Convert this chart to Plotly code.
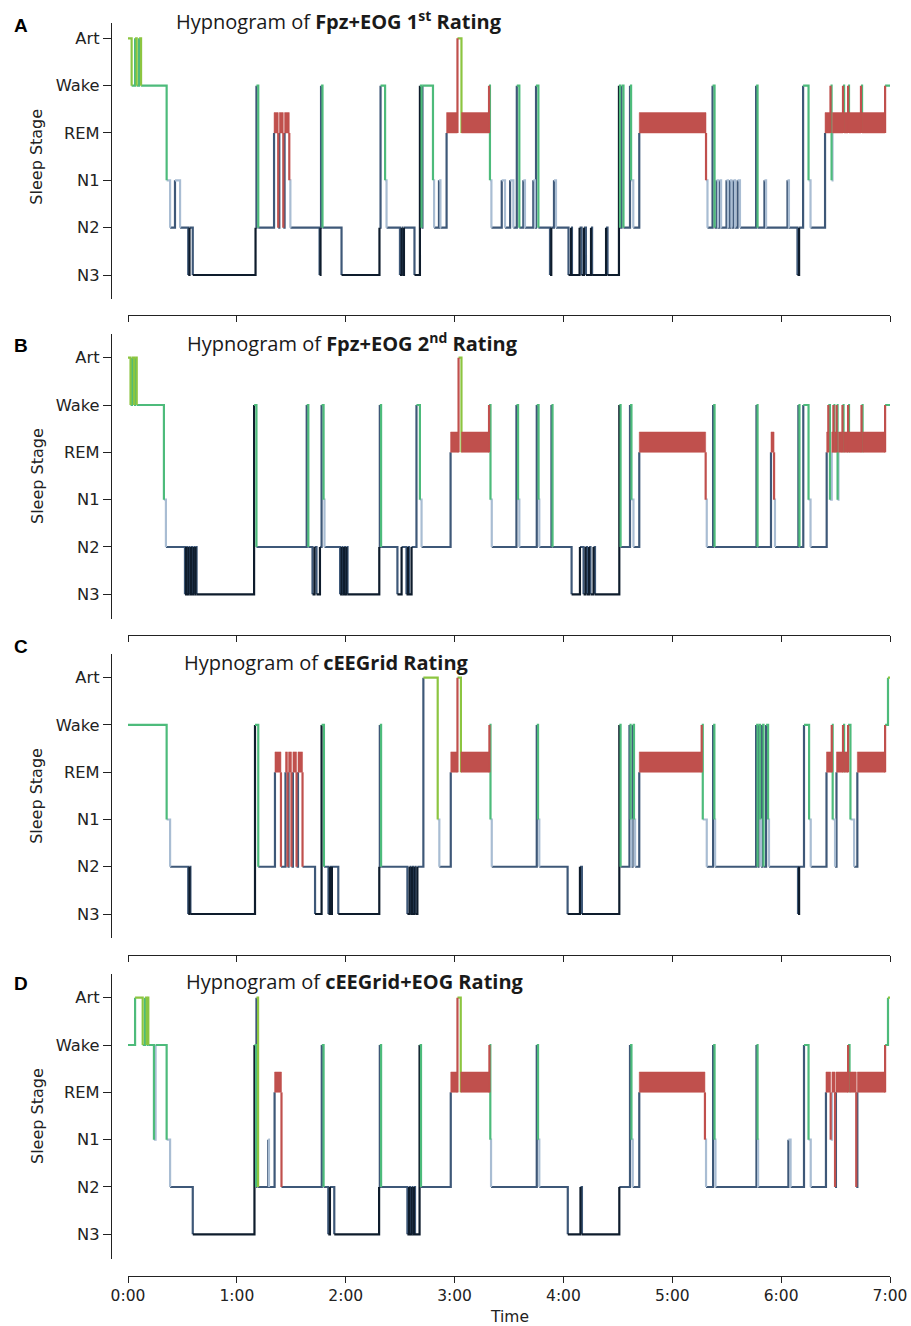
import plotly.graph_objects as go

W, H = 911, 1326

# ---------------- data ----------------
STAGES = ["N3", "N2", "N1", "REM", "Wake", "Art"]          # y tick labels, bottom -> top
HOUR_TICKS = [0, 60, 120, 180, 240, 300, 360, 420]          # minutes
HOUR_LABELS = ["0:00", "1:00", "2:00", "3:00", "4:00", "5:00", "6:00", "7:00"]
RECORD_END = 420.0                                           # minutes

TITLES = [
    "Hypnogram of <b>Fpz+EOG 1<sup>st</sup> Rating</b>",
    "Hypnogram of <b>Fpz+EOG 2<sup>nd</sup> Rating</b>",
    "Hypnogram of <b>cEEGrid Rating</b>",
    "Hypnogram of <b>cEEGrid+EOG Rating</b>",
]
PANEL_LETTERS = ["A", "B", "C", "D"]

# stage onsets (minutes) and stages, panel A (Fpz+EOG 1st rating)
A_onsets = [0, 2.0, 3.9, 4.8, 6.1, 7.2, 21.3, 23.2, 25.9, 28.7, 33.2, 33.9, 35.7, 70.3, 70.8, 71.8,
            80.5, 82.8, 83.4, 85.6, 86.3, 88.9, 89.5, 105.6, 106.1, 106.4, 107.2, 117.7, 138.6, 139.2,
            141.7, 142.5, 149.9, 150.8, 151.3, 152.1, 157.9, 160.9, 161.8, 162.3, 168.1, 168.7, 171.4,
            172.2, 175.6, 181.6, 183.8, 199.0, 199.5, 200.3, 206.0, 207.8, 210.6, 212.4, 214.3, 215.7,
            217.9, 218.8, 223.4, 224.3, 224.9, 226.2, 232.6, 233.3, 234.8, 235.9, 242.8, 244.2, 244.7,
            248.9, 250.0, 251.3, 252.4, 255.2, 255.8, 263.5, 264.3, 270.6, 271.2, 272.0, 273.1, 276.7,
            277.3, 278.5, 281.8, 318.6, 319.4, 322.2, 323.3, 324.4, 325.2, 326.0, 326.9, 329.9, 330.7,
            331.8, 332.6, 333.7, 334.6, 336.0, 337.3, 346.2, 347.0, 350.8, 351.7, 363.5, 364.3, 369.0,
            369.9, 372.1, 375.1, 376.2, 384.2, 387.2, 387.8, 388.3, 394.1, 394.7, 396.9, 397.4, 404.0,
            404.6, 417.3]
A_stages = ["Art", "Wake", "Art", "Wake", "Art", "Wake", "N1", "N2", "N1", "N2", "N3", "N2", "N3", "N2", "Wake", "N2",
            "REM", "N2", "REM", "N2", "REM", "N1", "N2", "N3", "N2", "Wake", "N2", "N3", "N2", "Wake",
            "N1", "N2", "N3", "N2", "N3", "N2", "N3", "Wake", "N2", "Wake", "N1", "N2", "N1",
            "N2", "REM", "Art", "REM", "Wake", "N1", "N2", "N1", "N2", "N1", "N2", "Wake", "N2",
            "N1", "N2", "N1", "N2", "Wake", "N2", "N3", "N2", "N1", "N2", "N3", "N2", "N3",
            "N2", "N3", "N2", "N3", "N2", "N3", "N2", "N3", "Wake", "N2", "Wake", "N2", "Wake",
            "N1", "N2", "REM", "N1", "N2", "Wake", "N2", "N1", "N2", "N1", "N2", "N1", "N2",
            "N1", "N2", "N1", "N2", "N1", "N2", "Wake", "N2", "N1", "N2", "N1", "N2", "N3",
            "N2", "Wake", "N1", "N2", "REM", "Wake", "N1", "REM", "Wake", "REM", "Wake", "REM", "Wake",
            "REM", "Wake"]

# panel B (Fpz+EOG 2nd rating)
B_onsets = [0, 1.4, 2.2, 3.3, 3.9, 4.8, 19.8, 20.9, 31.4, 32.0, 32.5, 33.3, 33.9, 34.7, 35.3, 36.1,
            36.7, 37.2, 37.8, 69.5, 70.8, 98.5, 99.4, 101.7, 102.8, 103.9, 105.8, 106.7, 107.8, 108.3,
            116.9, 117.7, 118.2, 119.1, 119.6, 120.4, 121.0, 138.5, 138.8, 139.5, 148.5, 150.8, 153.5,
            154.3, 154.9, 156.3, 159.0, 160.9, 161.8, 177.8, 182.2, 183.8, 199.0, 199.8, 200.5, 214.1,
            215.0, 215.7, 225.3, 226.3, 226.7, 233.4, 234.0, 244.5, 249.1, 251.1, 252.2, 253.0, 254.1,
            254.9, 256.6, 257.4, 270.8, 271.5, 276.7, 277.5, 278.6, 281.8, 318.4, 319.0, 322.5, 323.3,
            346.4, 347.0, 354.4, 356.1, 356.6, 369.5, 370.1, 372.2, 375.1, 376.2, 385.1, 386.0, 386.9,
            387.9, 388.8, 389.3, 390.6, 391.1, 391.6, 393.8, 394.4, 396.9, 397.4, 404.3, 404.9, 417.3]
B_stages = ["Art", "Wake", "Art", "Wake", "Art", "Wake", "N1", "N2", "N3", "N2", "N3", "N2", "N3", "N2", "N3", "N2",
            "N3", "N2", "N3", "Wake", "N2", "Wake", "N2", "N3", "N2", "N3", "N2", "Wake", "N1", "N2",
            "N3", "N2", "N3", "N2", "N3", "N2", "N3", "N2", "Wake", "N2", "N3", "N2", "N3",
            "N2", "N3", "N2", "Wake", "N1", "N2", "REM", "Art", "REM", "Wake", "N1", "N2", "Wake",
            "N1", "N2", "Wake", "N1", "N2", "Wake", "N2", "N3", "N2", "N3", "N2", "N3", "N2",
            "N3", "N2", "N3", "Wake", "N2", "Wake", "N1", "N2", "REM", "N1", "N2", "Wake", "N2",
            "Wake", "N2", "REM", "N1", "N2", "Wake", "N2", "Wake", "N1", "N2", "REM", "Wake", "N1",
            "REM", "Wake", "REM", "Wake", "N1", "REM", "Wake", "REM", "Wake", "REM", "Wake", "REM", "Wake"]

# panel C (cEEGrid rating)
C_onsets = [0, 21.3, 23.2, 33.2, 33.9, 34.4, 70.0, 71.8, 81.0, 84.3, 86.8, 87.9, 88.5, 90.1, 90.9, 92.9,
            93.7, 96.2, 103.1, 106.7, 108.0, 110.5, 111.3, 111.9, 112.4, 115.9, 138.5, 138.8, 139.5,
            154.0, 155.2, 155.7, 156.5, 157.1, 157.9, 158.5, 159.5, 162.8, 170.7, 171.6, 177.9, 181.6,
            183.5, 199.2, 199.8, 200.5, 225.3, 226.0, 226.7, 242.3, 249.1, 250.2, 270.8, 271.5, 276.4,
            277.0, 277.5, 278.1, 278.9, 279.5, 281.8, 316.2, 316.8, 319.0, 322.5, 323.2, 323.6, 346.2,
            347.0, 347.5, 348.4, 348.9, 349.5, 350.3, 351.7, 352.8, 353.3, 369.3, 369.9, 372.6, 375.4,
            376.3, 385.0, 387.9, 388.4, 389.7, 390.5, 394.1, 394.7, 396.9, 398.2, 400.2, 402.0, 417.3,
            418.9]
C_stages = ["Wake", "N1", "N2", "N3", "N2", "N3", "Wake", "N2", "REM", "N2", "REM", "N2", "REM", "N2", "REM", "N2",
            "REM", "N2", "N3", "Wake", "N2", "N3", "N2", "N3", "N2", "N3", "N2", "Wake", "N2",
            "N3", "N2", "N3", "N2", "N3", "N2", "N3", "N2", "Art", "N1", "N2", "REM", "Art",
            "REM", "Wake", "N1", "N2", "Wake", "N1", "N2", "N3", "N2", "N3", "Wake", "N2", "Wake",
            "N1", "N2", "Wake", "N1", "N2", "REM", "Wake", "N1", "N2", "Wake", "N1", "N2", "Wake",
            "N2", "Wake", "N1", "N2", "Wake", "N2", "Wake", "N1", "N2", "N3", "N2", "Wake", "N1",
            "N2", "REM", "Wake", "N1", "N2", "REM", "Wake", "REM", "Wake", "N1", "N2", "REM", "Wake",
            "Art"]

# panel D (cEEGrid+EOG rating)
D_onsets = [0, 3.9, 8.1, 9.4, 10.3, 10.7, 11.2, 14.3, 15.2, 21.3, 23.2, 35.7, 69.7, 70.6, 70.8, 71.7,
            77.3, 77.7, 80.8, 84.6, 106.8, 107.8, 110.4, 111.3, 113.7, 138.4, 138.8, 139.5, 154.0, 154.9,
            155.4, 156.3, 156.8, 157.6, 158.2, 160.7, 161.5, 177.9, 181.6, 183.4, 199.2, 199.7, 200.1,
            225.3, 226.0, 226.7, 242.4, 249.4, 250.2, 270.8, 276.7, 277.5, 278.2, 281.8, 318.0, 318.6,
            322.5, 323.3, 323.8, 346.4, 347.0, 347.3, 364.0, 365.2, 372.6, 375.1, 376.3, 384.7, 387.3,
            388.0, 389.7, 390.2, 396.9, 397.7, 401.4, 402.0, 417.3, 418.9]
D_stages = ["Wake", "Art", "Wake", "Art", "Wake", "Art", "Wake", "N1", "Wake", "N1", "N2", "N3", "Wake", "N2", "Art", "N2",
            "N1", "N2", "REM", "N2", "Wake", "N2", "N3", "N2", "N3", "N2", "Wake", "N2", "N3", "N2",
            "N3", "N2", "N3", "N2", "N3", "Wake", "N2", "REM", "Art", "REM", "Wake", "N1", "N2",
            "Wake", "N1", "N2", "N3", "N2", "N3", "N2", "Wake", "N1", "N2", "REM", "N1", "N2",
            "Wake", "N1", "N2", "Wake", "N1", "N2", "N1", "N2", "Wake", "N1", "N2", "REM", "N1",
            "REM", "N2", "REM", "Wake", "REM", "N2", "REM", "Wake", "Art"]

PANELS = [(A_onsets, A_stages), (B_onsets, B_stages), (C_onsets, C_stages), (D_onsets, D_stages)]

# ---------------- style ----------------
COLORS = {"N3": "#0e1c2c", "N2": "#3e5878", "N1": "#a9bdd3",
          "REM": "#c0504d", "Wake": "#4dbb7b", "Art": "#8cc540"}
LEVEL = {s: i for i, s in enumerate(STAGES)}
REM_BAND = 0.43
AX = "#222222"
LW = 2.2

# panel geometry in pixels: (Art tick y, N3 tick y, axis top, axis bottom, x-axis y)
GEOM = [(38.3, 275.0, 22.7, 299.0, 314.7),
        (357.7, 594.3, 334.0, 618.5, 635.0),
        (677.7, 914.0, 654.3, 938.3, 955.0),
        (997.7, 1234.3, 974.3, 1259.0, 1275.7)]
TITLE_POS = [(174, 21), (185, 342.7), (181.7, 662), (184.3, 981.7)]
LETTER_Y = [25, 346, 646.5, 983]

fig = go.Figure()
draw_order = ["N2", "N1", "N3", "Wake", "Art", "REM"]

for p, (onsets, stages) in enumerate(PANELS):
    xa = "x" if p == 0 else f"x{p+1}"
    ya = "y" if p == 0 else f"y{p+1}"
    ends = onsets[1:] + [RECORD_END]
    lines = {s: ([], []) for s in STAGES}
    rem_x, rem_y = [], []
    for i, s in enumerate(stages):
        t0, t1 = onsets[i], ends[i]
        lv = LEVEL[s]
        xs, ys = lines[s]
        if s == "REM":
            rem_x += [t0, t1, t1, t0, t0, None]
            rem_y += [lv, lv, lv + REM_BAND, lv + REM_BAND, lv, None]
            if i + 1 < len(stages):
                xs += [t1, t1, None]
                ys += [lv, LEVEL[stages[i + 1]], None]
        else:
            xs += [t0, t1]
            ys += [lv, lv]
            if i + 1 < len(stages):
                xs += [t1]
                ys += [LEVEL[stages[i + 1]]]
            xs.append(None)
            ys.append(None)
    for s in draw_order:
        xs, ys = lines[s]
        if xs:
            fig.add_trace(go.Scatter(x=xs, y=ys, mode="lines", xaxis=xa, yaxis=ya,
                                     line=dict(color=COLORS[s], width=LW), hoverinfo="skip",
                                     showlegend=False))
    fig.add_trace(go.Scatter(x=rem_x, y=rem_y, mode="lines", fill="toself", xaxis=xa, yaxis=ya,
                             fillcolor=COLORS["REM"], line=dict(color=COLORS["REM"], width=0.5),
                             hoverinfo="skip", showlegend=False))

layout = dict(template="none", width=W, height=H, autosize=False,
              margin=dict(l=0, r=0, t=0, b=0, pad=0),
              paper_bgcolor="white", plot_bgcolor="white", showlegend=False,
              font=dict(family="DejaVu Sans", size=15.5, color=AX))
annotations = []
for p, (art_y, n3_y, top, bot, xay) in enumerate(GEOM):
    sp = (n3_y - art_y) / 5.0
    ylo = -(bot - n3_y) / sp
    yhi = 5 + (art_y - top) / sp
    xk = "xaxis" if p == 0 else f"xaxis{p+1}"
    yk = "yaxis" if p == 0 else f"yaxis{p+1}"
    layout[xk] = dict(domain=[128 / W, 890 / W], range=[0, RECORD_END], anchor="free",
                      position=1 - xay / H, showline=True, linecolor=AX, linewidth=1.3,
                      ticks="outside", ticklen=6, tickwidth=1.3, tickcolor=AX,
                      tickvals=HOUR_TICKS, ticktext=HOUR_LABELS, showticklabels=(p == 3),
                      tickfont=dict(family="DejaVu Sans", size=15.5, color=AX),
                      showgrid=False, zeroline=False, fixedrange=True, automargin=False)
    layout[yk] = dict(domain=[1 - bot / H, 1 - top / H], range=[ylo, yhi], anchor="free",
                      position=111 / W, showline=True, linecolor=AX, linewidth=1.3,
                      ticks="outside", ticklen=8, tickwidth=1.3, tickcolor=AX,
                      tickvals=list(range(6)), ticktext=STAGES,
                      tickfont=dict(family="DejaVu Sans", size=16.3, color=AX),
                      showgrid=False, zeroline=False, fixedrange=True, automargin=False)
    annotations.append(dict(text="Sleep Stage", x=37 / W, y=1 - ((art_y + n3_y) / 2) / H,
                            xref="paper", yref="paper", textangle=-90, showarrow=False,
                            xanchor="center", yanchor="middle",
                            font=dict(family="DejaVu Sans", size=16, color=AX)))
    tx, ty = TITLE_POS[p]
    annotations.append(dict(text=TITLES[p], x=tx / W, y=1 - ty / H, xref="paper", yref="paper",
                            showarrow=False, xanchor="left", yanchor="middle",
                            font=dict(family="Open Sans", size=20, color="#1a1a1a")))
    annotations.append(dict(text="<b>" + PANEL_LETTERS[p] + "</b>", x=21 / W, y=1 - LETTER_Y[p] / H,
                            xref="paper", yref="paper", showarrow=False, xanchor="center",
                            yanchor="middle",
                            font=dict(family="Liberation Sans", size=19, color="#000000")))
annotations.append(dict(text="Time", x=509 / W, y=1 - 1317 / H, xref="paper", yref="paper",
                        showarrow=False, xanchor="center", yanchor="middle",
                        font=dict(family="DejaVu Sans", size=15.5, color=AX)))
layout["annotations"] = annotations
fig.update_layout(**layout)
fig.write_html("out.html", config={"displayModeBar": False},
               post_script="document.body.style.margin='0';")
